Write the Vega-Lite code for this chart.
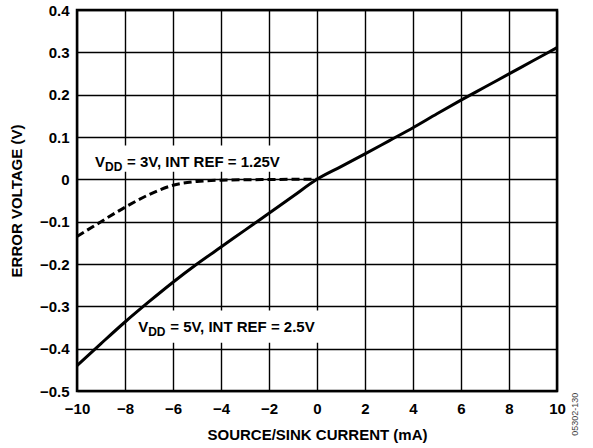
{
  "$schema": "https://vega.github.io/schema/vega-lite/v6.json",
  "width": 480,
  "height": 381,
  "autosize": {"type": "none"},
  "padding": {"left": 77, "top": 10, "right": 36, "bottom": 57},
  "background": "white",
  "config": {
    "font": "Liberation Sans",
    "view": {"stroke": "black", "strokeWidth": 2.5},
    "axis": {
      "grid": true,
      "gridColor": "black",
      "gridOpacity": 1,
      "gridWidth": 1.4,
      "domain": false,
      "ticks": false,
      "labelFont": "Liberation Sans",
      "labelFontWeight": "bold",
      "labelFontSize": 15,
      "labelColor": "black",
      "labelFlush": false,
      "labelOverlap": false,
      "titleFont": "Liberation Sans",
      "titleFontWeight": "bold",
      "titleFontSize": 15,
      "titleColor": "black"
    }
  },
  "datasets": {
    "vdd5": [
      {"current": -10, "error": -0.44},
      {"current": -9, "error": -0.388},
      {"current": -8, "error": -0.337},
      {"current": -7, "error": -0.289},
      {"current": -6, "error": -0.243},
      {"current": -5, "error": -0.2},
      {"current": -4, "error": -0.16},
      {"current": -3, "error": -0.12},
      {"current": -2, "error": -0.08},
      {"current": -1, "error": -0.04},
      {"current": 0, "error": 0},
      {"current": 1, "error": 0.03},
      {"current": 2, "error": 0.06},
      {"current": 3, "error": 0.091},
      {"current": 4, "error": 0.122},
      {"current": 5, "error": 0.155},
      {"current": 6, "error": 0.187},
      {"current": 7, "error": 0.218},
      {"current": 8, "error": 0.249},
      {"current": 9, "error": 0.28},
      {"current": 10, "error": 0.311}
    ],
    "vdd3": [
      {"current": -10, "error": -0.135},
      {"current": -9, "error": -0.1},
      {"current": -8, "error": -0.066},
      {"current": -7, "error": -0.036},
      {"current": -6, "error": -0.014},
      {"current": -5, "error": -0.005},
      {"current": -4, "error": -0.002},
      {"current": -3, "error": -0.001},
      {"current": -2, "error": -0.0005},
      {"current": -1, "error": 0},
      {"current": 0, "error": 0}
    ],
    "boxes": [
      {"x1": -9.5, "x2": -0.7, "y1": 0.018, "y2": 0.08},
      {"x1": -7.6, "x2": 0.7, "y1": -0.386, "y2": -0.31}
    ],
    "labels": [
      {"x": -9.25, "y": 0.03, "rest": "= 3V, INT REF = 1.25V"},
      {"x": -7.45, "y": -0.36, "rest": "= 5V, INT REF = 2.5V"}
    ],
    "code": [
      {"x": 10.75, "y": -0.555, "text": "05302-130"}
    ]
  },
  "layer": [
    {
      "data": {"name": "boxes"},
      "mark": {"type": "rect", "fill": "white", "stroke": null},
      "encoding": {
        "x": {
          "field": "x1", "type": "quantitative",
          "scale": {"domain": [-10, 10], "nice": false, "zero": false},
          "axis": {
            "values": [-10, -8, -6, -4, -2, 0, 2, 4, 6, 8, 10],
            "labelPadding": 10,
            "titlePadding": 11,
            "title": "SOURCE/SINK CURRENT (mA)"
          }
        },
        "x2": {"field": "x2"},
        "y": {
          "field": "y1", "type": "quantitative",
          "scale": {"domain": [-0.5, 0.4], "nice": false, "zero": false},
          "axis": {
            "values": [-0.5, -0.4, -0.3, -0.2, -0.1, 0, 0.1, 0.2, 0.3, 0.4],
            "format": ".1~f",
            "labelPadding": 8,
            "titlePadding": 15,
            "title": "ERROR VOLTAGE (V)"
          }
        },
        "y2": {"field": "y2"}
      }
    },
    {
      "data": {"name": "vdd3"},
      "mark": {"type": "line", "color": "black", "strokeWidth": 3, "strokeDash": [8, 4], "interpolate": "monotone"},
      "encoding": {
        "x": {"field": "current", "type": "quantitative"},
        "y": {"field": "error", "type": "quantitative"}
      }
    },
    {
      "data": {"name": "vdd5"},
      "mark": {"type": "line", "color": "black", "strokeWidth": 3, "interpolate": "monotone"},
      "encoding": {
        "x": {"field": "current", "type": "quantitative"},
        "y": {"field": "error", "type": "quantitative"}
      }
    },
    {
      "data": {"name": "labels"},
      "mark": {"type": "text", "align": "left", "baseline": "alphabetic", "fontSize": 15, "fontWeight": "bold", "color": "black", "font": "Liberation Sans"},
      "encoding": {
        "x": {"field": "x", "type": "quantitative"},
        "y": {"field": "y", "type": "quantitative"},
        "text": {"value": "V"}
      }
    },
    {
      "data": {"name": "labels"},
      "mark": {"type": "text", "align": "left", "baseline": "alphabetic", "dx": 10, "dy": 4, "fontSize": 12, "fontWeight": "bold", "color": "black", "font": "Liberation Sans"},
      "encoding": {
        "x": {"field": "x", "type": "quantitative"},
        "y": {"field": "y", "type": "quantitative"},
        "text": {"value": "DD"}
      }
    },
    {
      "data": {"name": "labels"},
      "mark": {"type": "text", "align": "left", "baseline": "alphabetic", "dx": 32, "fontSize": 15, "fontWeight": "bold", "color": "black", "font": "Liberation Sans"},
      "encoding": {
        "x": {"field": "x", "type": "quantitative"},
        "y": {"field": "y", "type": "quantitative"},
        "text": {"field": "rest"}
      }
    },
    {
      "data": {"name": "code"},
      "mark": {"type": "text", "angle": 270, "align": "center", "baseline": "middle", "fontSize": 9, "color": "#444", "font": "Liberation Sans", "clip": false},
      "encoding": {
        "x": {"field": "x", "type": "quantitative"},
        "y": {"field": "y", "type": "quantitative"},
        "text": {"field": "text"}
      }
    }
  ]
}
